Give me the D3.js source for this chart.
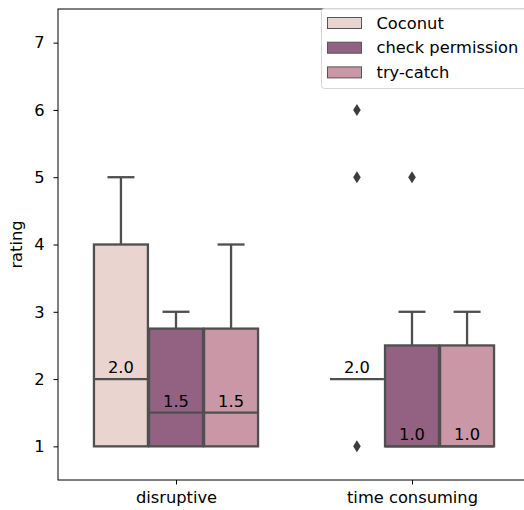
<!DOCTYPE html>
<html>
<head>
<meta charset="utf-8">
<script src="https://cdn.jsdelivr.net/npm/d3@7"></script>
<style>
  html, body { margin: 0; padding: 0; background: #fff; overflow: hidden; }
  svg { display: block; font-family: "DejaVu Sans", sans-serif; }
</style>
</head>
<body>
<div id="chart"></div>
<script>
const width = 524;
const height = 510;

const categories = ["disruptive", "time consuming"];
const hues = ["Coconut", "check permission", "try-catch"];
const hueColors = ["#e9d4d0", "#936283", "#ca97a7"];

// box stats per category, per hue: [whiskerLow, q1, median, q3, whiskerHigh]
const disruptiveStats = [
  [1, 1, 2, 4, 5],
  [1, 1, 1.5, 2.75, 3],
  [1, 1, 1.5, 2.75, 4],
];
const timeConsumingStats = [
  [2, 2, 2, 2, 2],
  [1, 1, 1, 2.5, 3],
  [1, 1, 1, 2.5, 3],
];
const disruptiveOutliers = [[], [], []];
const timeConsumingOutliers = [[6, 5, 1], [5], []];

const yTicks = [1, 2, 3, 4, 5, 6, 7];

const stats = [disruptiveStats, timeConsumingStats];
const outliers = [disruptiveOutliers, timeConsumingOutliers];

const margin = { top: 9, left: 58, bottom: 30 };
const plotRight = 530;
const plotBottom = height - margin.bottom;
const lineColor = "#4f4f4f";
const fontSize = 16.3;

const svg = d3.select("#chart")
  .append("svg")
  .attr("width", width)
  .attr("height", height);

const x = d3.scaleLinear()
  .domain([-0.5, categories.length - 0.5])
  .range([margin.left, plotRight]);

const y = d3.scaleLinear()
  .domain([0.5, 7.5])
  .range([plotBottom, margin.top]);

const groupWidth = 0.7;
const hueWidth = groupWidth / hues.length;
const boxPx = (x(hueWidth) - x(0)) * 0.98;

function hueCenter(ci, hi) {
  return x(ci - groupWidth / 2 + hueWidth * (hi + 0.5));
}

const g = svg.append("g");

categories.forEach((cat, ci) => {
  hues.forEach((hue, hi) => {
    const [lo, q1, med, q3, hi2] = stats[ci][hi];
    const cx = hueCenter(ci, hi);
    const left = cx - boxPx / 2;
    const capW = boxPx / 2;
    const box = g.append("g");

    // whiskers
    box.append("line")
      .attr("x1", cx).attr("x2", cx)
      .attr("y1", y(q3)).attr("y2", y(hi2))
      .attr("stroke", lineColor).attr("stroke-width", 2.3);
    box.append("line")
      .attr("x1", cx).attr("x2", cx)
      .attr("y1", y(q1)).attr("y2", y(lo))
      .attr("stroke", lineColor).attr("stroke-width", 2.3);
    if (hi2 > q3) {
      box.append("line")
        .attr("x1", cx - capW / 2).attr("x2", cx + capW / 2)
        .attr("y1", y(hi2)).attr("y2", y(hi2))
        .attr("stroke", lineColor).attr("stroke-width", 2.3);
    }
    if (lo < q1) {
      box.append("line")
        .attr("x1", cx - capW / 2).attr("x2", cx + capW / 2)
        .attr("y1", y(lo)).attr("y2", y(lo))
        .attr("stroke", lineColor).attr("stroke-width", 2.3);
    }

    box.append("rect")
      .attr("x", left)
      .attr("y", y(q3))
      .attr("width", boxPx)
      .attr("height", Math.max(0, y(q1) - y(q3)))
      .attr("fill", hueColors[hi])
      .attr("stroke", lineColor)
      .attr("stroke-width", 2.3);

    box.append("line")
      .attr("x1", left).attr("x2", left + boxPx)
      .attr("y1", y(med)).attr("y2", y(med))
      .attr("stroke", lineColor).attr("stroke-width", 2.3);

    box.append("text")
      .attr("x", cx)
      .attr("y", y(med) - 6)
      .attr("text-anchor", "middle")
      .attr("font-size", fontSize)
      .attr("fill", "#000")
      .text(med.toFixed(1));

    outliers[ci][hi].forEach(v => {
      const py = y(v);
      box.append("path")
        .attr("d", `M${cx},${py - 6} L${cx + 3.8},${py} L${cx},${py + 6} L${cx - 3.8},${py} Z`)
        .attr("fill", "#3d3d3d");
    });
  });
});

// axes
const yAxis = d3.axisLeft(y).tickValues(yTicks).tickSize(4.5).tickPadding(9).tickFormat(d3.format("d"));
const yg = svg.append("g")
  .attr("transform", `translate(${margin.left},0)`)
  .call(yAxis);
yg.select(".domain").remove();
yg.selectAll("text").attr("font-size", fontSize).attr("font-family", "DejaVu Sans").attr("fill", "#000");

const xAxis = d3.axisBottom(x).tickValues(categories.map((c, i) => i)).tickSize(4.5).tickPadding(7)
  .tickFormat(i => categories[i]);
const xg = svg.append("g")
  .attr("transform", `translate(0,${plotBottom})`)
  .call(xAxis);
xg.select(".domain").remove();
xg.selectAll("text").attr("font-size", fontSize).attr("font-family", "DejaVu Sans").attr("fill", "#000");

// spines
svg.append("rect")
  .attr("x", margin.left)
  .attr("y", margin.top)
  .attr("width", plotRight - margin.left)
  .attr("height", plotBottom - margin.top)
  .attr("fill", "none")
  .attr("stroke", "#000")
  .attr("stroke-width", 1);

svg.append("text")
  .attr("transform", `translate(22,${(margin.top + plotBottom) / 2}) rotate(-90)`)
  .attr("text-anchor", "middle")
  .attr("font-size", fontSize)
  .text("rating");

// legend
const legend = svg.append("g").attr("transform", "translate(321.5,8.5)");
legend.append("rect")
  .attr("width", 220)
  .attr("height", 80)
  .attr("rx", 3)
  .attr("fill", "#fff")
  .attr("fill-opacity", 0.85)
  .attr("stroke", "#d6d6d6");
hues.forEach((hue, i) => {
  const row = legend.append("g").attr("transform", `translate(6,${9 + i * 24.7})`);
  row.append("rect")
    .attr("width", 34)
    .attr("height", 11)
    .attr("fill", hueColors[i])
    .attr("stroke", "#555")
    .attr("stroke-width", 1);
  row.append("text")
    .attr("x", 49)
    .attr("y", 11)
    .attr("font-size", fontSize)
    .text(hue);
});
</script>
</body>
</html>
